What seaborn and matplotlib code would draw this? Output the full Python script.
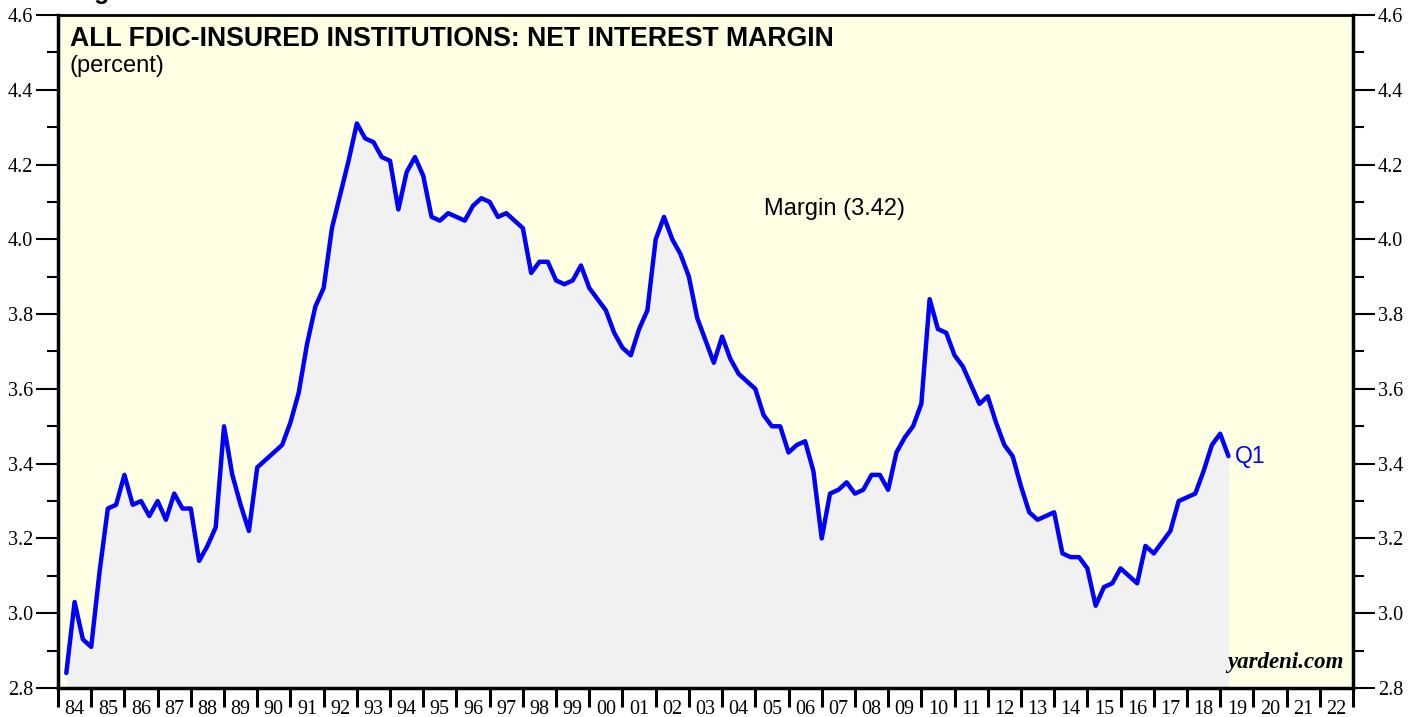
import numpy as np
import pandas as pd
import matplotlib
matplotlib.use("Agg")
import matplotlib.pyplot as plt
from matplotlib.ticker import FixedLocator, NullFormatter, FixedFormatter
import seaborn as sns

sns.set_style("ticks")
plt.rcParams.update({"text.color": "black", "xtick.color": "black", "ytick.color": "black",
                     "xtick.labelcolor": "black", "ytick.labelcolor": "black"})

# === Quarterly net interest margin, 1984 Q1 - 2019 Q1 (percent) ===
margin = [
    2.84, 3.03, 2.93, 2.91,   # 1984
    3.11, 3.28, 3.29, 3.37,   # 1985
    3.29, 3.30, 3.26, 3.30,   # 1986
    3.25, 3.32, 3.28, 3.28,   # 1987
    3.14, 3.18, 3.23, 3.50,   # 1988
    3.37, 3.29, 3.22, 3.39,   # 1989
    3.41, 3.43, 3.45, 3.51,   # 1990
    3.59, 3.72, 3.82, 3.87,   # 1991
    4.03, 4.12, 4.21, 4.31,   # 1992
    4.27, 4.26, 4.22, 4.21,   # 1993
    4.08, 4.18, 4.22, 4.17,   # 1994
    4.06, 4.05, 4.07, 4.06,   # 1995
    4.05, 4.09, 4.11, 4.10,   # 1996
    4.06, 4.07, 4.05, 4.03,   # 1997
    3.91, 3.94, 3.94, 3.89,   # 1998
    3.88, 3.89, 3.93, 3.87,   # 1999
    3.84, 3.81, 3.75, 3.71,   # 2000
    3.69, 3.76, 3.81, 4.00,   # 2001
    4.06, 4.00, 3.96, 3.90,   # 2002
    3.79, 3.73, 3.67, 3.74,   # 2003
    3.68, 3.64, 3.62, 3.60,   # 2004
    3.53, 3.50, 3.50, 3.43,   # 2005
    3.45, 3.46, 3.38, 3.20,   # 2006
    3.32, 3.33, 3.35, 3.32,   # 2007
    3.33, 3.37, 3.37, 3.33,   # 2008
    3.43, 3.47, 3.50, 3.56,   # 2009
    3.84, 3.76, 3.75, 3.69,   # 2010
    3.66, 3.61, 3.56, 3.58,   # 2011
    3.51, 3.45, 3.42, 3.34,   # 2012
    3.27, 3.25, 3.26, 3.27,   # 2013
    3.16, 3.15, 3.15, 3.12,   # 2014
    3.02, 3.07, 3.08, 3.12,   # 2015
    3.10, 3.08, 3.18, 3.16,   # 2016
    3.19, 3.22, 3.30, 3.31,   # 2017
    3.32, 3.38, 3.45, 3.48,   # 2018
    3.42,                     # 2019 Q1
]
first_year = 1984
year_labels = [f"{y % 100:02d}" for y in range(1984, 2023)]
y_ticks = [2.8, 3.0, 3.2, 3.4, 3.6, 3.8, 4.0, 4.2, 4.4, 4.6]

# quarters plotted at end of quarter (fractional year)
df = pd.DataFrame({"Margin": margin})
df["Date"] = first_year + 0.25 * (np.arange(len(df)) + 1)

bg = "#FFFFE3"
blue = "#0000FF"

fig = plt.figure(figsize=(14.21, 7.17), dpi=100)
ax = fig.add_axes([58 / 1421, 29 / 717, (1353 - 58) / 1421, (688 - 15) / 717])
ax.set_facecolor(bg)

ax.fill_between(df["Date"], df["Margin"], 2.8, color="#F1F1F1", lw=0, zorder=1)
sns.lineplot(data=df, x="Date", y="Margin", color=blue, linewidth=3.2, ax=ax, zorder=3)

ax.set_xlim(1984, 2023)
ax.set_ylim(2.8, 4.6)
ax.set_xlabel("")
ax.set_ylabel("")

# x axis: year boundaries as ticks, labels centred between
ax.xaxis.set_major_locator(FixedLocator(range(1984, 2024)))
ax.xaxis.set_major_formatter(NullFormatter())
ax.xaxis.set_minor_locator(FixedLocator([y + 0.5 for y in range(1984, 2023)]))
ax.xaxis.set_minor_formatter(FixedFormatter(year_labels))
ax.tick_params(axis="x", which="major", length=14, width=2.2, direction="out", color="black")
ax.tick_params(axis="x", which="minor", length=0, pad=9, labelsize=14.5)

# y axis on both sides
ax.yaxis.set_major_locator(FixedLocator(y_ticks))
ax.yaxis.set_minor_locator(FixedLocator(np.arange(2.9, 4.6, 0.2)))
ax.tick_params(axis="y", which="both", left=True, right=True, labelleft=True, labelright=True)
ax.tick_params(axis="y", which="major", length=16, width=1.5, labelsize=14.5, pad=2)
ax.tick_params(axis="y", which="minor", length=8, width=1.5)
ax.set_yticklabels([f"{v:.1f}" for v in y_ticks])

for lab in ax.get_xticklabels(minor=True) + ax.get_yticklabels():
    lab.set_fontfamily("Liberation Serif")
for lab in ax.yaxis.get_ticklabels(which="both"):
    lab.set_fontfamily("Liberation Serif")

for side in ["left", "right", "top", "bottom"]:
    ax.spines[side].set_visible(True)
    ax.spines[side].set_color("black")
    ax.spines[side].set_linewidth(2.5)
ax.spines["top"].set_linewidth(2)

# texts
ax.text(0.009, 0.983, "ALL FDIC-INSURED INSTITUTIONS: NET INTEREST MARGIN", transform=ax.transAxes,
        fontsize=19.2, fontweight="bold", family="Liberation Sans", va="top", ha="left")
ax.text(0.009, 0.94, "(percent)", transform=ax.transAxes,
        fontsize=17, family="Liberation Sans", va="top", ha="left")
ax.text(0.545, 0.712, "Margin (3.42)", transform=ax.transAxes,
        fontsize=17, family="Liberation Sans", va="center", ha="left")
ax.text(df["Date"].iloc[-1] + 0.2, df["Margin"].iloc[-1], "Q1", color=blue,
        fontsize=16.5, family="Liberation Sans", va="center", ha="left")
ax.text(0.993, 0.022, "yardeni.com", transform=ax.transAxes, fontsize=16.5,
        family="Liberation Serif", fontweight="bold", style="italic", va="bottom", ha="right")

# top of the page caption, mostly cut off as in the source
fig.text(72 / 1421, 1 + 1.5 / 717, "Figure 1.", fontsize=18, fontweight="bold",
         family="Liberation Sans", va="baseline", ha="left")

fig.savefig("out.png", dpi=100, facecolor="white")
